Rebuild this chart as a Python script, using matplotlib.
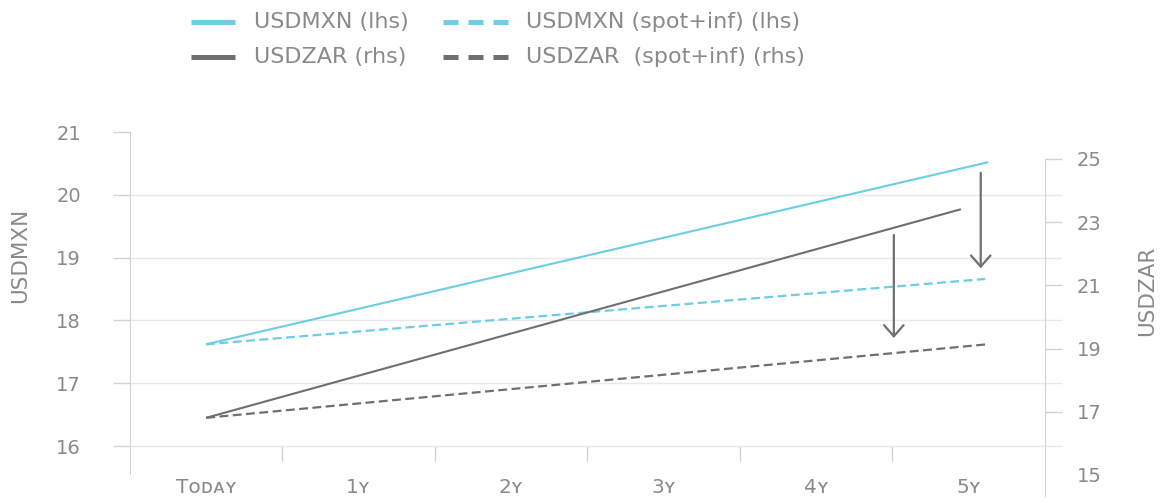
import matplotlib
matplotlib.use("Agg")
import matplotlib.pyplot as plt
from matplotlib.lines import Line2D

# ---- data ----
categories = ["T\u1d0f\u1d05\u1d00\u028f", "1\u028f", "2\u028f", "3\u028f", "4\u028f", "5\u028f"]
cat_pos = [0, 1, 2, 3, 4, 5]

mxn_x = [0.0, 5.13]
mxn_y = [17.62, 20.52]
mxn_spot_x = [0.0, 5.11]
mxn_spot_y = [17.62, 18.66]

zar_x = [0.0, 4.95]
zar_y = [16.81, 23.41]
zar_spot_x = [0.0, 5.11]
zar_spot_y = [16.81, 19.13]

left_ticks = [16, 17, 18, 19, 20, 21]
right_ticks = [15, 17, 19, 21, 23, 25]

# arrows (lhs scale): x, start, end
arrow_x = [5.08, 4.51]
arrow_from = [20.35, 19.36]
arrow_to = [18.83, 17.72]

labels = ["USDMXN (lhs)", "USDMXN (spot+inf) (lhs)", "USDZAR (rhs)", "USDZAR  (spot+inf) (rhs)"]

# ---- style ----
CYAN = "#6ccde3"
DARK = "#6f6f6f"
TXT = "#8a8a8a"
GRID = "#e8e8e8"
SPINE = "#d2d2d2"

W, H = 1162, 503
fig = plt.figure(figsize=(W / 100, H / 100), dpi=100)

def px(x0, y0, x1, y1):
    return [x0 / W, 1 - y1 / H, (x1 - x0) / W, (y1 - y0) / H]

ax = fig.add_axes(px(130, 132, 1062, 496))
ax2 = ax.twinx()

ax.set_xlim(-0.5, 5.613)
ax.set_ylim(15.204, 21)
ax2.set_ylim(14.335, 25.854)

ax.plot(mxn_x, mxn_y, color=CYAN, lw=1.5, solid_capstyle="butt")
ax.plot(mxn_spot_x, mxn_spot_y, color=CYAN, lw=1.6, dashes=(4, 2))
ax2.plot(zar_x, zar_y, color=DARK, lw=1.5, solid_capstyle="butt")
ax2.plot(zar_spot_x, zar_spot_y, color=DARK, lw=1.6, dashes=(4, 2))

for xa, y0, y1 in zip(arrow_x, arrow_from, arrow_to):
    ax.annotate("", xy=(xa, y1), xytext=(xa, y0),
                arrowprops=dict(arrowstyle="->,head_length=0.4,head_width=0.35",
                                color=DARK, lw=1.6, shrinkA=0, shrinkB=0,
                                mutation_scale=20))

# spines
for s in ["top", "right"]:
    ax.spines[s].set_visible(False)
for s in ["top", "left", "bottom"]:
    ax2.spines[s].set_visible(False)
ax.spines["left"].set_bounds(15.55, 21)
ax.spines["left"].set_color(SPINE)
ax.spines["bottom"].set_position(("data", 16))
ax.spines["bottom"].set_color(GRID)
ax2.spines["right"].set_position(("data", 5.5))
ax2.spines["right"].set_bounds(14.335, 25)
ax2.spines["right"].set_color(SPINE)

# left y axis
ax.set_yticks(left_ticks)
ax.tick_params(axis="y", direction="out", length=12.2, width=1, color=SPINE,
               labelsize=14, labelcolor=TXT, pad=23)
ax.yaxis.grid(True, color=GRID, lw=1)
for t, v in zip(ax.yaxis.get_major_ticks(), left_ticks):
    if v == 21:
        t.gridline.set_visible(False)
ax.set_axisbelow(True)

# right y axis
ax2.set_yticks(right_ticks)
ax2.tick_params(axis="y", direction="out", length=12.2, width=1, color=SPINE,
                labelsize=14, labelcolor=TXT, pad=11)
for t, v in zip(ax2.yaxis.get_major_ticks(), right_ticks):
    if v == 15:
        t.tick2line.set_visible(False)

# x axis
ax.set_xticks(cat_pos)
ax.set_xticklabels(categories)
ax.set_xticks([0.5, 1.5, 2.5, 3.5, 4.5], minor=True)
ax.tick_params(axis="x", which="major", length=0, labelsize=14.5, labelcolor=TXT, pad=23)
ax.tick_params(axis="x", which="minor", direction="out", length=11, width=1, color=SPINE)

# axis titles
fig.text(20 / W, 1 - 255 / H, "USDMXN", rotation=90, ha="center", va="center",
         fontsize=15.5, color=TXT)
fig.text(1147 / W, 1 - 291 / H, "USDZAR", rotation=90, ha="center", va="center",
         fontsize=15.5, color=TXT)

# legend (manual)
rows = [22, 57]
leg = [
    (191, 235, 254, rows[0], CYAN, "-", labels[0]),
    (443, 511, 526, rows[0], CYAN, "--", labels[1]),
    (191, 235, 254, rows[1], DARK, "-", labels[2]),
    (443, 511, 526, rows[1], DARK, "--", labels[3]),
]
for x0, x1, xt, yr, c, ls, lab in leg:
    y = 1 - yr / H
    ln = Line2D([x0 / W, x1 / W], [y, y], transform=fig.transFigure, color=c,
                lw=3.6, solid_capstyle="butt", dash_capstyle="butt")
    if ls == "--":
        ln.set_dashes((3, 2))
    fig.add_artist(ln)
    fig.text(xt / W, y, lab, ha="left", va="center", fontsize=16, color=TXT)

fig.savefig("out.png", dpi=100)
